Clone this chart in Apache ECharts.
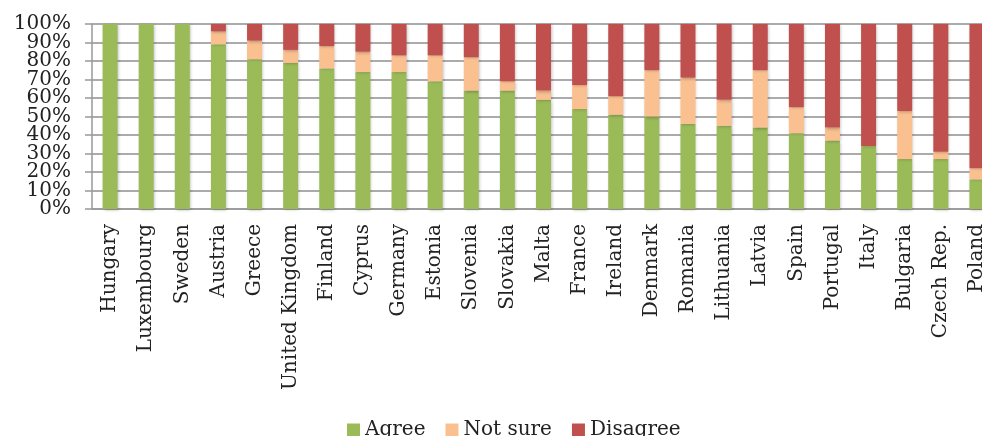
<!DOCTYPE html>
<html>
<head>
<meta charset="utf-8">
<script src="https://cdn.jsdelivr.net/npm/echarts@6/dist/echarts.min.js"></script>
<style>
html,body{margin:0;padding:0;background:#fff;}
#chart{width:982px;height:436px;}
</style>
</head>
<body>
<div id="chart"></div>
<script>
const categories = ["Hungary","Luxembourg","Sweden","Austria","Greece","United Kingdom","Finland","Cyprus","Germany","Estonia","Slovenia","Slovakia","Malta","France","Ireland","Denmark","Romania","Lithuania","Latvia","Spain","Portugal","Italy","Bulgaria","Czech Rep.","Poland"];
const agree    = [100,100,100,89,81,79,76,74,74,69,64,64,59,54,51,50,46,45,44,41,37,34,27,27,16];
const notSure  = [0,0,0,7,10,7,12,11,9,14,18,5,5,13,10,25,25,14,31,14,7,0,26,4,6];
const disagree = [0,0,0,4,9,14,12,15,17,17,18,31,36,33,39,25,29,41,25,45,56,66,47,69,78];
const seriesNames = ["Agree","Not sure","Disagree"];
const yTicks = {min:0, max:100, step:10};

const FONT = "DejaVu Serif";
const colors = ["#9BBB59","#FAC090","#C0504D"];
const chart = echarts.init(document.getElementById('chart'), null, {renderer:'canvas'});
const mk = (name, data, color) => ({
  name, type:'bar', stack:'total', data, barWidth:15, yAxisIndex:0,
  itemStyle:{color, shadowBlur:3, shadowColor:'rgba(0,0,0,0.25)', shadowOffsetX:1, shadowOffsetY:1},
  emphasis:{disabled:true}
});
const labelBase = {margin:21, fontFamily:FONT, fontSize:20, color:'#222', hideOverlap:false};
// two overlaid value axes so that tightly packed labels are all drawn
const evenFmt = v => (Math.round(v / yTicks.step) % 2 === 0) ? v + '%' : '';
const oddFmt  = v => (Math.round(v / yTicks.step) % 2 === 1) ? v + '%' : '';
chart.setOption({
  animation:false,
  grid:{left:92, top:24, width:903, height:185, containLabel:false, outerBoundsMode:'none'},
  legend:{
    data:seriesNames, left:342, top:415, itemWidth:13, itemHeight:13, itemGap:20,
    icon:'rect',
    textStyle:{fontFamily:FONT, fontSize:20, color:'#222'}
  },
  xAxis:{
    type:'category', data:categories, boundaryGap:true,
    axisLine:{lineStyle:{color:'#999', width:1.5}},
    axisTick:{interval:0, length:6, lineStyle:{color:'#999', width:1.5}},
    axisLabel:{interval:0, rotate:90, margin:15, fontFamily:FONT, fontSize:20, color:'#222', hideOverlap:false},
    splitLine:{show:false}
  },
  yAxis:[{
    type:'value', position:'left', min:yTicks.min, max:yTicks.max, interval:yTicks.step,
    axisLine:{show:true, lineStyle:{color:'#999', width:1.5}},
    axisTick:{show:true, length:7, lineStyle:{color:'#999', width:1.5}},
    axisLabel:Object.assign({formatter:evenFmt, showMinLabel:true, showMaxLabel:true}, labelBase),
    splitLine:{lineStyle:{color:'#ABABAB', width:2}}
  },{
    type:'value', position:'left', offset:0, min:yTicks.min, max:yTicks.max, interval:yTicks.step,
    axisLine:{show:false}, axisTick:{show:false}, splitLine:{show:false},
    axisLabel:Object.assign({formatter:oddFmt, showMinLabel:false, showMaxLabel:false}, labelBase)
  }],
  series:[
    mk(seriesNames[0], agree, colors[0]),
    mk(seriesNames[1], notSure, colors[1]),
    mk(seriesNames[2], disagree, colors[2])
  ]
});
</script>
</body>
</html>
